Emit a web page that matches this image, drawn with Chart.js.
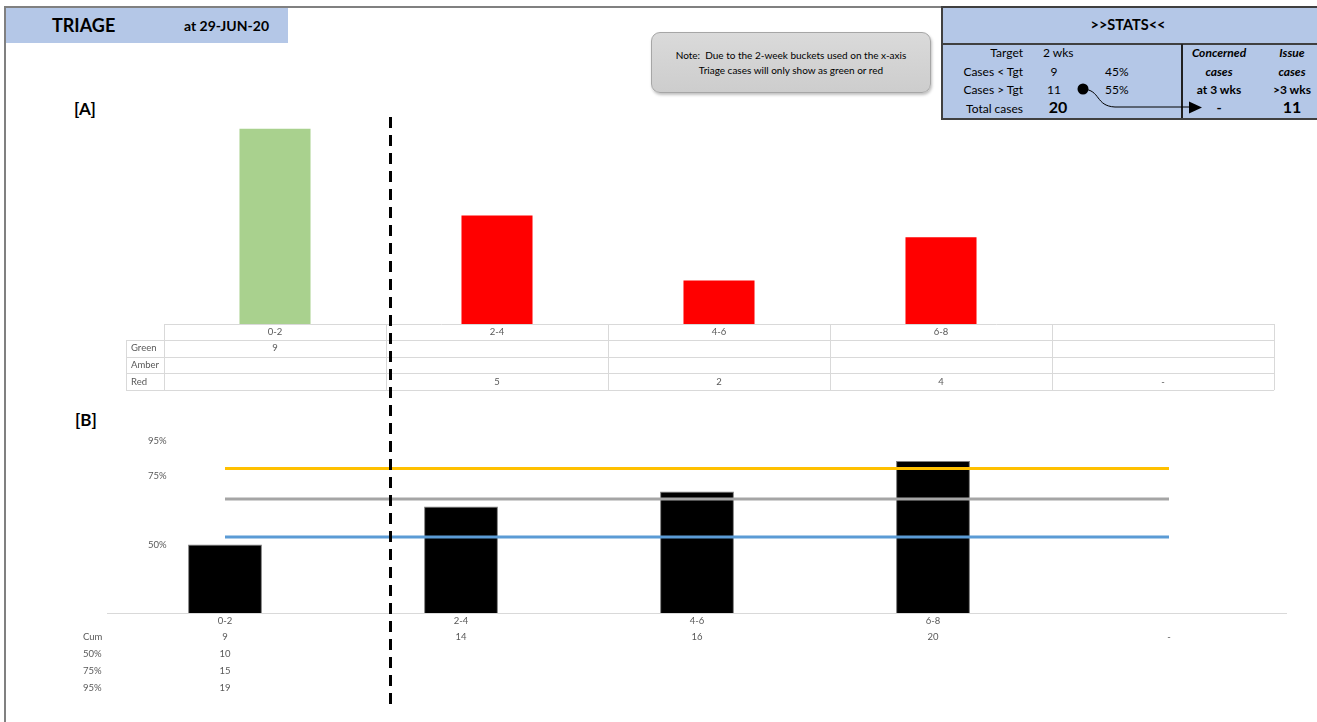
<!DOCTYPE html>
<html>
<head>
<meta charset="utf-8">
<title>Triage</title>
<script src="https://cdn.jsdelivr.net/npm/chart.js@4.4.0/dist/chart.umd.min.js"></script>
<style>
  html, body { margin: 0; padding: 0; background: #fff; }
  #page { position: relative; width: 1317px; height: 722px; overflow: hidden; font-family: Lato, "Open Sans", sans-serif; color: #000; }
  .abs { position: absolute; white-space: nowrap; }
  #frameLeft { left: 4px; top: 6px; width: 1.5px; height: 716px; background: #808080; }
  #frameTop { left: 4px; top: 6px; width: 937px; height: 1.5px; background: #808080; }
  #hdr { left: 6px; top: 8px; width: 282px; height: 35px; background: #b4c7e7; }
  #hdr .t1 { position: absolute; left: 46px; top: 6px; font-size: 18px; font-weight: bold; }
  #hdr .t2 { position: absolute; left: 178px; top: 9px; font-size: 14px; font-weight: bold; }
  #note { left: 651px; top: 32px; width: 280px; height: 61px; border-radius: 9px; border: 1px solid #a6a6a6;
          background: linear-gradient(#dadada, #cdcdcd); box-shadow: 1px 2px 3px rgba(0,0,0,0.25);
          font-size: 10px; line-height: 15px; text-align: center; padding-top: 15px; box-sizing: border-box; }
  .sec { font-size: 17px; font-weight: bold; }
  #stats { left: 941px; top: 6px; width: 380px; height: 114px; background: #b4c7e7; border: 2px solid #404040; box-sizing: border-box; overflow: hidden; }
  #stats .s { position: absolute; font-size: 12px; white-space: nowrap; }
  #stats .r { text-align: right; }
  #stats .c { text-align: center; }
  #stats .b { font-weight: bold; }
  #stats .i { font-style: italic; font-weight: bold; }
  .pct { font-size: 9.5px; color: #595959; }
  #dash { left: 389px; top: 117px; width: 3px; height: 594px;
          background: repeating-linear-gradient(to bottom, #000 0px, #000 11px, transparent 11px, transparent 18px); }
</style>
</head>
<body>
<div id="page">
  <div id="frameLeft" class="abs"></div>
  <div id="frameTop" class="abs"></div>

  <div id="hdr" class="abs"><span class="t1">TRIAGE</span><span class="t2">at 29-JUN-20</span></div>

  <div id="note" class="abs">Note:&nbsp; Due to the 2-week buckets used on the x-axis<br>Triage cases will only show as green or red</div>

  <div id="stats" class="abs">
    <div class="s b c" style="left:0;width:370px;top:8px;font-size:14.5px;">&gt;&gt;STATS&lt;&lt;</div>
    <div style="position:absolute;left:0;top:35px;width:380px;height:1.5px;background:#404040;"></div>
    <div style="position:absolute;left:238px;top:36px;width:1.5px;height:76px;background:#202020;"></div>

    <div class="s r" style="right:296px;top:37px;">Target</div>
    <div class="s r" style="right:296px;top:56px;">Cases &lt; Tgt</div>
    <div class="s r" style="right:296px;top:74px;">Cases &gt; Tgt</div>
    <div class="s r" style="right:296px;top:93px;">Total cases</div>

    <div class="s" style="left:100px;top:37px;">2 wks</div>
    <div class="s c" style="left:96px;width:30px;top:56px;">9</div>
    <div class="s c" style="left:96px;width:30px;top:74px;">11</div>
    <div class="s c b" style="left:100px;width:30px;top:89px;font-size:16px;">20</div>
    <div class="s" style="left:162px;top:56px;">45%</div>
    <div class="s" style="left:162px;top:74px;">55%</div>

    <div class="s c i" style="left:238px;width:76px;top:37px;">Concerned</div>
    <div class="s c i" style="left:238px;width:76px;top:56px;">cases</div>
    <div class="s c b" style="left:238px;width:76px;top:74px;">at 3 wks</div>
    <div class="s c b" style="left:238px;width:76px;top:91px;font-size:14px;">-</div>
    <div class="s c i" style="left:314px;width:70px;top:37px;">Issue</div>
    <div class="s c i" style="left:314px;width:70px;top:56px;">cases</div>
    <div class="s c b" style="left:314px;width:70px;top:74px;">&gt;3 wks</div>
    <div class="s c b" style="left:314px;width:70px;top:89px;font-size:16px;">11</div>

    <svg style="position:absolute;left:0;top:0;" width="380" height="114">
      <circle cx="140" cy="81" r="5.5" fill="#000"/>
      <path d="M140 81 C 158 82, 152 98, 172 99 L 248 99" fill="none" stroke="#000" stroke-width="1"/>
      <polygon points="246,93.5 259,99.5 246,105.5" fill="#000"/>
    </svg>
  </div>

  <div class="abs sec" style="left:74px;top:98px;">[A]</div>
  <div class="abs sec" style="left:75px;top:409px;">[B]</div>

  <canvas id="chartA" class="abs" style="left:0;top:90px;" width="1317" height="310"></canvas>
  <canvas id="chartB" class="abs" style="left:0;top:400px;" width="1317" height="322"></canvas>

  <div class="abs pct" style="left:148px;top:435px;">95%</div>
  <div class="abs pct" style="left:148px;top:470px;">75%</div>
  <div class="abs pct" style="left:148px;top:539px;">50%</div>

  <div id="dash" class="abs"></div>
</div>

<script>
// 2-week age buckets
const buckets = ['0-2', '2-4', '4-6', '6-8', ''];

// [A] cases per bucket by RAG status (null = blank cell, 0 shows as "-")
const green = [9, null, null, null, null];
const amber = [null, null, null, null, null];
const red = [null, 5, 2, 4, 0];

// [B] cumulative cases and percentile markers
const cum = [9, 14, 16, 20, 0];
const p50 = [10, 10, 10, 10, 10];
const p75 = [15, 15, 15, 15, 15];
const p95 = [19, 19, 19, 19, 19];
const p50Row = [10, null, null, null, null];
const p75Row = [15, null, null, null, null];
const p95Row = [19, null, null, null, null];

function cellText(v) {
  if (v === null || v === undefined) return '';
  if (v === 0) return '-';
  return String(v);
}

// draws the excel-style data table under the plot area
const dataTable = {
  id: 'dataTable',
  afterDraw(chart, args, opts) {
    const ctx = chart.ctx;
    const area = chart.chartArea;
    const labels = chart.data.labels;
    const step = (area.right - area.left) / labels.length;
    const top = area.bottom;
    const headH = opts.headerHeight;
    const rowH = opts.rowHeight;
    const bottom = top + headH + opts.rows.length * rowH;

    ctx.save();
    ctx.lineWidth = 1;
    ctx.strokeStyle = '#d9d9d9';

    if (opts.grid) {
      ctx.beginPath();
      ctx.moveTo(area.left, top + 0.5);
      ctx.lineTo(area.right, top + 0.5);
      for (let r = 0; r <= opts.rows.length; r++) {
        const y = Math.round(top + headH + r * rowH) + 0.5;
        ctx.moveTo(opts.labelLeft, y);
        ctx.lineTo(area.right, y);
      }
      for (let i = 0; i <= labels.length; i++) {
        const x = Math.round(area.left + i * step) + 0.5;
        ctx.moveTo(x, top);
        ctx.lineTo(x, bottom);
      }
      ctx.moveTo(opts.labelLeft + 0.5, top + headH);
      ctx.lineTo(opts.labelLeft + 0.5, bottom);
      ctx.stroke();
    } else {
      // plain axis line
      ctx.beginPath();
      ctx.moveTo(area.left, top + 0.5);
      ctx.lineTo(area.right, top + 0.5);
      ctx.stroke();
    }

    ctx.font = '9.5px Lato, "Open Sans", sans-serif';
    ctx.fillStyle = '#595959';
    ctx.textBaseline = 'middle';

    ctx.textAlign = 'center';
    labels.forEach((lab, i) => {
      ctx.fillText(lab, chart.scales.x.getPixelForValue(i), top + headH / 2);
    });

    opts.rows.forEach((row, r) => {
      const cy = top + headH + r * rowH + rowH / 2;
      ctx.textAlign = 'left';
      ctx.fillText(row.label, opts.labelLeft + opts.labelPad, cy);
      ctx.textAlign = 'center';
      row.values.forEach((v, i) => {
        ctx.fillText(cellText(v), chart.scales.x.getPixelForValue(i), cy);
      });
    });
    ctx.restore();
  }
};

Chart.defaults.font.family = 'Lato, "Open Sans", sans-serif';

const chartA = new Chart(document.getElementById('chartA'), {
  type: 'bar',
  data: {
    labels: buckets,
    datasets: [
      { label: 'Green', data: green, backgroundColor: '#a9d18e' },
      { label: 'Amber', data: amber, backgroundColor: '#ffc000' },
      { label: 'Red', data: red, backgroundColor: '#ff0000' }
    ]
  },
  options: {
    responsive: false,
    animation: false,
    layout: { padding: { left: 164, right: 43, top: 17, bottom: 76 } },
    datasets: { bar: { categoryPercentage: 1, barPercentage: 0.32 } },
    scales: {
      x: { stacked: true, display: false },
      y: { stacked: true, display: false, min: 0, max: 10 }
    },
    plugins: {
      legend: { display: false },
      tooltip: { enabled: false },
      dataTable: {
        grid: true,
        labelLeft: 126,
        labelPad: 5,
        headerHeight: 16,
        rowHeight: 16.7,
        rows: [
          { label: 'Green', values: green },
          { label: 'Amber', values: amber },
          { label: 'Red', values: red }
        ]
      }
    }
  },
  plugins: [dataTable]
});

const chartB = new Chart(document.getElementById('chartB'), {
  type: 'bar',
  data: {
    labels: buckets,
    datasets: [
      { type: 'line', label: '95%', data: p95, borderColor: '#ffc000', borderWidth: 3, pointRadius: 0, order: 0 },
      { type: 'line', label: '75%', data: p75, borderColor: '#a5a5a5', borderWidth: 3, pointRadius: 0, order: 0 },
      { type: 'line', label: '50%', data: p50, borderColor: '#5b9bd5', borderWidth: 3, pointRadius: 0, order: 0 },
      { label: 'Cum', data: cum, backgroundColor: '#000000', borderColor: '#7f7f7f', borderWidth: 1,
        categoryPercentage: 1, barPercentage: 0.313, order: 1 }
    ]
  },
  options: {
    responsive: false,
    animation: false,
    layout: { padding: { left: 107, right: 30, top: 23, bottom: 109 } },
    scales: {
      x: { display: false },
      y: { display: false, min: 0, max: 25 }
    },
    plugins: {
      legend: { display: false },
      tooltip: { enabled: false },
      dataTable: {
        grid: false,
        labelLeft: 83,
        labelPad: 0,
        headerHeight: 16,
        rowHeight: 16.8,
        rows: [
          { label: 'Cum', values: cum },
          { label: '50%', values: p50Row },
          { label: '75%', values: p75Row },
          { label: '95%', values: p95Row }
        ]
      }
    }
  },
  plugins: [dataTable]
});
</script>
</body>
</html>
